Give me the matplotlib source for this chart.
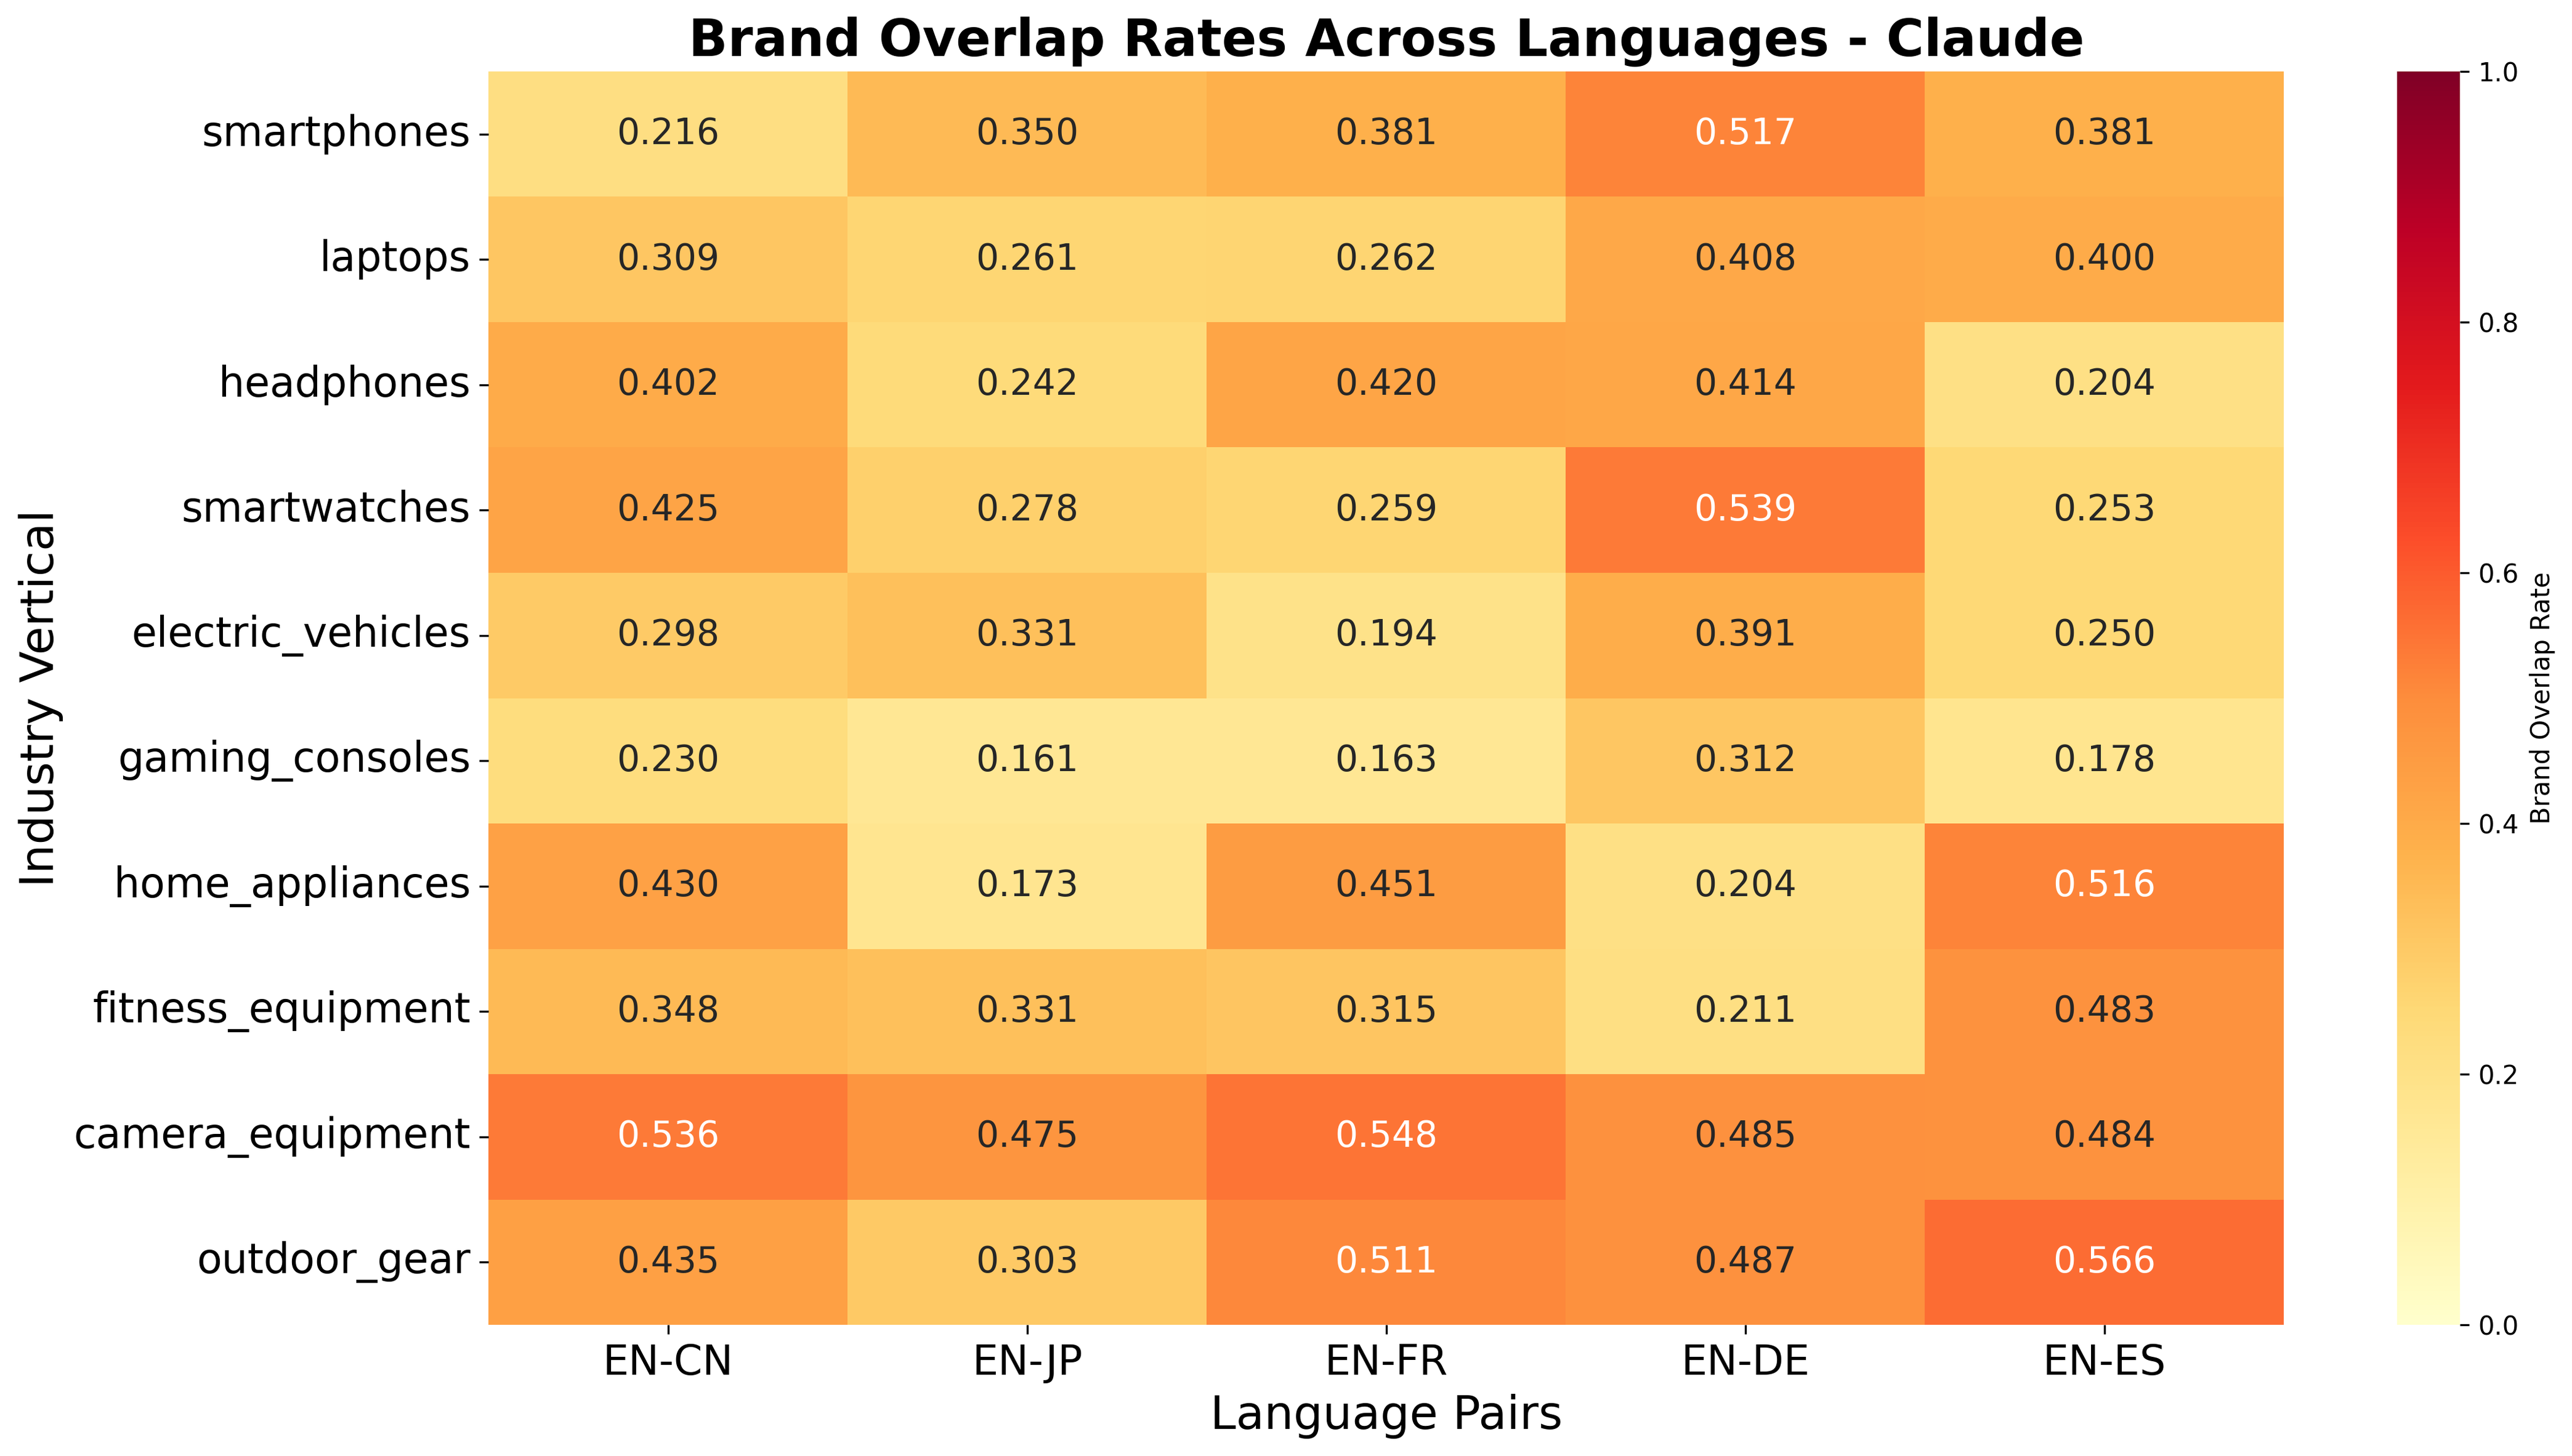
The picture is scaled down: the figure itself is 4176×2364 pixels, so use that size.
import matplotlib
matplotlib.use('Agg')
import matplotlib.pyplot as plt
import seaborn as sns
import numpy as np
import pandas as pd

verticais = ['smartphones', 'laptops', 'headphones', 'smartwatches', 'electric_vehicles',
             'gaming_consoles', 'home_appliances', 'fitness_equipment', 'camera_equipment',
             'outdoor_gear']
pares = ['EN-CN', 'EN-JP', 'EN-FR', 'EN-DE', 'EN-ES']

en_cn = [0.216, 0.309, 0.402, 0.425, 0.298, 0.230, 0.430, 0.348, 0.536, 0.435]
en_jp = [0.350, 0.261, 0.242, 0.278, 0.331, 0.161, 0.173, 0.331, 0.475, 0.303]
en_fr = [0.381, 0.262, 0.420, 0.259, 0.194, 0.163, 0.451, 0.315, 0.548, 0.511]
en_de = [0.517, 0.408, 0.414, 0.539, 0.391, 0.312, 0.204, 0.211, 0.485, 0.487]
en_es = [0.381, 0.400, 0.204, 0.253, 0.250, 0.178, 0.516, 0.483, 0.484, 0.566]

df = pd.DataFrame({'EN-CN': en_cn, 'EN-JP': en_jp, 'EN-FR': en_fr,
                   'EN-DE': en_de, 'EN-ES': en_es}, index=verticais)[pares]

fig = plt.figure(figsize=(13.92, 7.88), dpi=300)
ax = fig.add_axes([0.190, 0.090, 0.698, 0.861])
cax = fig.add_axes([0.932, 0.090, 0.0245, 0.861])

# heatmap principal
sns.heatmap(df, ax=ax, cbar_ax=cax, cmap='YlOrRd', vmin=0, vmax=1,
            annot=True, fmt='.3f', annot_kws={'fontsize': 14},
            cbar_kws={'label': 'Brand Overlap Rate'})

ax.set_title('Brand Overlap Rates Across Languages - Claude', fontsize=20, fontweight='bold')
ax.set_xlabel('Language Pairs', fontsize=18)
ax.set_ylabel('Industry Vertical', fontsize=18)
ax.tick_params(axis='both', labelsize=16)
plt.setp(ax.get_yticklabels(), rotation=0)
plt.setp(ax.get_xticklabels(), rotation=0)

cax.tick_params(labelsize=10)
cax.yaxis.label.set_size(10)

fig.savefig('out.png', dpi=300)
